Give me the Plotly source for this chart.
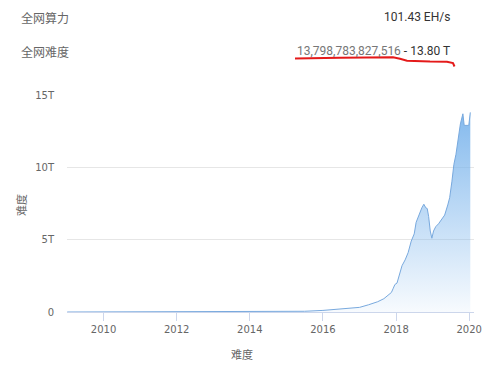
import plotly.graph_objects as go

# ---- data (difficulty in trillions) ----
dates = [
    "2009-01-03", "2010-01-01", "2011-01-01", "2012-01-01", "2013-01-01",
    "2014-01-01", "2014-07-01", "2015-01-01", "2015-07-01", "2016-01-01",
    "2016-07-01", "2017-01-01", "2017-04-01", "2017-07-01", "2017-09-01",
    "2017-10-15", "2017-11-15", "2017-12-01", "2017-12-20", "2018-01-10",
    "2018-02-01", "2018-03-01", "2018-04-01", "2018-05-01", "2018-06-01",
    "2018-06-20", "2018-07-01", "2018-07-20", "2018-08-15", "2018-09-15",
    "2018-10-05", "2018-10-25", "2018-11-08", "2018-11-22", "2018-12-08",
    "2018-12-24", "2019-01-10", "2019-02-01", "2019-03-01", "2019-04-01",
    "2019-05-01", "2019-06-01", "2019-06-20", "2019-07-12", "2019-08-01",
    "2019-08-22", "2019-09-15", "2019-10-05", "2019-10-30", "2019-11-12",
    "2019-12-28", "2020-01-12",
]
difficulty_t = [
    0.0, 0.0, 0.00002, 0.000002, 0.0034,
    0.0014, 0.017, 0.041, 0.05, 0.11,
    0.21, 0.32, 0.5, 0.71, 0.92,
    1.2, 1.35, 1.6, 1.9, 2.0,
    2.6, 3.2, 3.6, 4.1, 4.9,
    5.3, 5.4, 6.2, 6.7, 7.2,
    7.45, 7.2, 7.15, 6.6, 5.6,
    5.1, 5.6, 5.9, 6.1, 6.4,
    6.7, 7.4, 7.9, 9.0, 10.2,
    10.9, 12.1, 13.0, 13.7, 12.9,
    12.9, 13.8,
]
y_tickvals = [0, 5, 10, 15]
y_ticktext = ["0", "5T", "10T", "15T"]
x_tickvals = ["2010-01-01", "2012-01-01", "2014-01-01", "2016-01-01", "2018-01-01", "2020-01-01"]
x_ticktext = ["2010", "2012", "2014", "2016", "2018", "2020"]

hashrate_label = "全网算力"
hashrate_value = "101.43 EH/s"
difficulty_label = "全网难度"
difficulty_raw = "13,798,783,827,516"
difficulty_short = " - 13.80 T"
axis_title = "难度"

# ---- layout geometry (pixels) ----
W, H = 499, 368
L, R, T, B = 67, 474, 95, 312


def px(x):
    return (x - L) / (R - L)


def py(y):
    return (B - y) / (B - T)


CJK = "Noto Sans CJK SC"
fig = go.Figure()
fig.add_trace(go.Scatter(
    x=dates, y=difficulty_t, mode="lines",
    line=dict(color="#78a9de", width=1),
    fill="tozeroy",
    fillgradient=dict(
        type="vertical",
        colorscale=[[0, "rgba(124,181,236,0.06)"], [1, "rgba(124,181,236,0.95)"]],
        start=0, stop=14,
    ),
    hoverinfo="skip", showlegend=False,
))

annotations = [
    dict(text=hashrate_label, x=px(19), y=py(17), xanchor="left", yanchor="middle",
         font=dict(family=CJK, size=12, color="#666")),
    dict(text=hashrate_value, x=px(452), y=py(17), xanchor="right", yanchor="middle",
         font=dict(family="Roboto", size=12, color="#333")),
    dict(text=difficulty_label, x=px(19), y=py(51), xanchor="left", yanchor="middle",
         font=dict(family=CJK, size=12, color="#666")),
    dict(text=f"<span style='color:#777'>{difficulty_raw}</span>{difficulty_short}",
         x=px(452), y=py(51), xanchor="right", yanchor="middle",
         font=dict(family="Roboto", size=12, color="#333")),
    dict(text=axis_title, x=px(242), y=py(354), xanchor="center", yanchor="middle",
         font=dict(family=CJK, size=11, color="#666")),
    dict(text=axis_title, x=px(21), y=py(205), xanchor="center", yanchor="middle",
         textangle=-90, font=dict(family=CJK, size=11, color="#666")),
]
for a in annotations:
    a.update(xref="paper", yref="paper", showarrow=False)

# red hand-drawn underline
pts = [(295, 58.5), (340, 57.8), (393, 57.3), (400, 58.8), (407, 60.7),
       (430, 61.5), (447, 61.7), (453, 63), (454.5, 66.5)]
path = "M " + " L ".join(f"{px(x):.5f},{py(y):.5f}" for x, y in pts)

fig.update_layout(
    width=W, height=H,
    margin=dict(l=L, r=W - R, t=T, b=H - B, pad=0),
    paper_bgcolor="white", plot_bgcolor="white",
    font=dict(family="DejaVu Sans", size=10, color="#666"),
    annotations=annotations,
    shapes=[dict(type="path", path=path, xref="paper", yref="paper",
                 line=dict(color="#e41a1a", width=2))],
    xaxis=dict(
        type="date", range=["2009-01-01", "2020-02-18"],
        tickvals=x_tickvals, ticktext=x_ticktext,
        showgrid=False, zeroline=False,
        showline=True, linecolor="#ccd6eb", linewidth=1,
        ticks="outside", ticklen=8, tickcolor="#ccd6eb",
        tickfont=dict(family="DejaVu Sans", size=10, color="#666"),
    ),
    yaxis=dict(
        range=[0, 15], tickvals=y_tickvals, ticktext=y_ticktext,
        showgrid=True, gridcolor="#e6e6e6", gridwidth=1,
        zeroline=False, showline=False, ticks="",
        ticklabelstandoff=12,
        tickfont=dict(family="DejaVu Sans", size=10, color="#666"),
    ),
)

fig.write_html("out.html")
